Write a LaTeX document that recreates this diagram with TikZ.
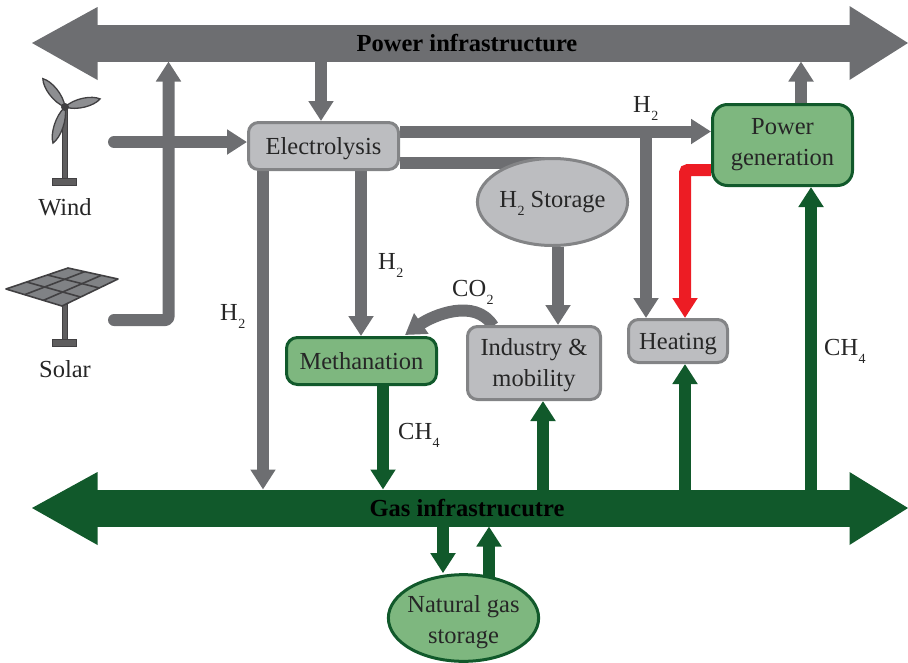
\documentclass[tikz,border=0pt]{standalone}
\usepackage{fontspec}
\setmainfont{Liberation Serif}
\usetikzlibrary{arrows.meta,shapes.geometric,calc}
\definecolor{pgray}{HTML}{6D6E71}
\definecolor{lgray}{HTML}{BCBDC0}
\definecolor{dgreen}{HTML}{11592B}
\definecolor{lgreen}{HTML}{7EB77F}
\definecolor{hred}{HTML}{ED1C24}
\definecolor{idark}{HTML}{414042}
\definecolor{imid}{HTML}{808285}
\pgfdeclarelayer{back}
\pgfsetlayers{back,main}
\newcommand{\lowidx}[1]{\kern0.5pt\raisebox{-8.5pt}{\fontsize{14}{14}\selectfont #1}}
\tikzset{
  txt/.style={font=\fontsize{24.5}{31}\selectfont, align=center, text=black!85, inner sep=0pt},
  oneline/.style={text height=16pt, text depth=0pt},
  free/.style={txt, anchor=base west},
  freec/.style={txt, anchor=base},
  bold label/.style={font=\fontsize{24.5}{26}\selectfont\bfseries, text=black, inner sep=0pt},
  graybox/.style={draw=pgray!85, fill=lgray, line width=3pt, rounded corners=10pt, txt},
  greenbox/.style={draw=dgreen, fill=lgreen, line width=3pt, rounded corners=11pt, txt},
  grayell/.style={ellipse, draw=pgray!85, fill=lgray, line width=3pt, txt},
  greenell/.style={ellipse, draw=dgreen, fill=lgreen, line width=3pt, txt},
  bar/.style={minimum width=753pt, minimum height=37pt, inner sep=0pt, outer sep=0pt, draw=none},
  flow/.style={line width=12pt, -{Triangle[length=20pt,width=24pt]}},
  plainflow/.style={line width=12pt},
  blade/.style={fill=imid!90, draw=idark, line width=1.3pt},
  panel/.style={draw=idark, line width=1.6pt, line join=round},
  iron/.style={draw=idark, fill=idark!85, line width=1pt}
}
\begin{document}
\begin{tikzpicture}[x=1pt,y=-1pt]
\useasboundingbox (0,0) rectangle (908,662);
\clip (0,0) rectangle (908,662);

% infrastructure bars
\begin{pgfonlayer}{back}
\node[bar, fill=pgray] (power) at (473.5,43) {};
\fill[pgray] (97.5,7) -- (32,43) -- (97.5,80) -- cycle;
\fill[pgray] (849.5,6) -- (908,43) -- (849.5,80) -- cycle;
\node[bar, fill=dgreen] (gas) at (473.5,508) {};
\fill[dgreen] (97.5,472) -- (32,508) -- (97.5,545) -- cycle;
\fill[dgreen] (849.5,472) -- (908,508) -- (849.5,545) -- cycle;
\end{pgfonlayer}
\node[bold label] (powerlab) at (467,43) {Power infrastructure};
\node[bold label] (gaslab) at (467,508) {Gas infrastrucutre};

% boxes
\node[graybox, oneline, minimum width=150pt, minimum height=47pt] (elec) at (323.5,146) {Electrolysis};
\node[greenbox, rounded corners=15pt, minimum width=140pt, minimum height=81pt] (pgen) at (782.5,145) {Power\\generation};
\node[grayell, text height=10pt, text depth=0pt, minimum width=150pt, minimum height=87pt] (stor) at (552.5,202) {H\lowidx{2} Storage};
\node[graybox, oneline, minimum width=99pt, minimum height=43pt] (heat) at (678,341) {Heating};
\node[graybox, minimum width=133pt, minimum height=73pt] (ind) at (534,363) {\rule{0pt}{21pt}Industry \&\\mobility};
\node[greenbox, oneline, minimum width=150pt, minimum height=47pt] (meth) at (361.5,361) {Methanation};
\node[greenell, inner xsep=-3pt, minimum width=150pt, minimum height=85pt] (ngs) at (463.5,618) {\rule{0pt}{25pt}Natural gas\\storage};

% free labels
\node[freec] (lw) at (65,215) {Wind};
\node[freec] (ls) at (65,377) {Solar};
\node[free] (h2a) at (633,112) {H\lowidx{2}};
\node[free] (h2b) at (378,269) {H\lowidx{2}};
\node[free] (h2c) at (220,320) {H\lowidx{2}};
\node[free] (co2) at (452,296) {CO\lowidx{2}};
\node[free] (ch4a) at (398,439) {CH\lowidx{4}};
\node[free] (ch4b) at (824,355) {CH\lowidx{4}};

% wind turbine
\draw[iron, line width=0.5pt] (62.5,107) rectangle (67.5,180);
\draw[iron] (52.5,178.5) rectangle (76.5,185.5);
\foreach \ang/\len in {128/36,13/36,251.6/38}{
  \begin{scope}[shift={(65,107)},rotate=\ang]
    \draw[blade] (0,0) .. controls (0.3*\len,6.5) and (0.8*\len,5.5) .. (\len,0)
                 .. controls (0.8*\len,-5.5) and (0.3*\len,-6.5) .. (0,0);
  \end{scope}
}
\fill[idark] (65,107) circle (4pt);

% solar panel
\coordinate (pa) at (68,268);
\coordinate (pb) at (118,279);
\coordinate (pc) at (62,306);
\coordinate (pd) at (6,289);
\draw[iron, line width=0.5pt] (62.5,304) rectangle (67.5,341);
\draw[iron] (52.5,339.5) rectangle (76.5,346.5);
\draw[panel, fill=imid] (pa) -- (pb) -- (pc) -- (pd) -- cycle;
\draw[panel] ($(pa)!0.333!(pb)$) -- ($(pd)!0.333!(pc)$);
\draw[panel] ($(pa)!0.667!(pb)$) -- ($(pd)!0.667!(pc)$);
\draw[panel] ($(pa)!0.333!(pd)$) -- ($(pb)!0.333!(pc)$);
\draw[panel] ($(pa)!0.667!(pd)$) -- ($(pb)!0.667!(pc)$);

% free ends and guide coordinates
\coordinate (windout) at (114,142);
\coordinate (solarout) at (114,320);
\coordinate (solarbend) at (168.5,320);
\coordinate (topb) at (0,131.5);
\coordinate (midb) at (0,163);
\coordinate (xp) at (321,0);
\coordinate (xl) at (263,0);
\coordinate (xm) at (361,0);
\coordinate (xh) at (646,0);
\coordinate (xr) at (685,0);
\coordinate (xg) at (811,0);
\coordinate (xu) at (801,0);
\coordinate (xs) at (558,0);
\coordinate (xc) at (383,0);
\coordinate (xi) at (543,0);
\coordinate (xn) at (443,0);
\coordinate (xo) at (489,0);
\coordinate (redy) at (0,170);
\coordinate (co2a) at (493,326);
\coordinate (co2b) at (405,335);

\begin{pgfonlayer}{back}
% gray connectors
\draw[flow, pgray, line cap=round] (windout) -- (elec.west |- windout);
\draw[flow, pgray, line cap=round, line join=round, rounded corners=3pt] (solarout) -- (solarbend) -- (solarbend |- power.south);
\draw[flow, pgray] (power.south -| xp) -- (elec.north -| xp);
\draw[flow, pgray] (elec.east |- topb) -- (pgen.west |- topb);
\draw[plainflow, pgray] (elec.east |- midb) -- (stor.center |- midb);
\draw[flow, pgray] (xh |- topb) -- (heat.north -| xh);
\draw[flow, pgray] (elec.south -| xl) -- (gas.north -| xl);
\draw[flow, pgray] (elec.south -| xm) -- (meth.north -| xm);
\draw[flow, pgray] (stor.south -| xs) -- (ind.north -| xs);
\draw[flow, pgray] (pgen.north -| xu) -- (power.south -| xu);
\draw[flow, pgray] (co2a) .. controls (475,297) and (432,316) .. (co2b);
% red connector
\draw[flow, hred, rounded corners=3pt] (pgen.west |- redy) -- (xr |- redy) -- (heat.north -| xr);
% green connectors
\draw[flow, dgreen] (gas.north -| xg) -- (pgen.south -| xg);
\draw[flow, dgreen] (meth.south -| xc) -- (gas.north -| xc);
\draw[flow, dgreen] (gas.north -| xi) -- (ind.south -| xi);
\draw[flow, dgreen] (gas.north -| xr) -- (heat.south -| xr);
\draw[flow, dgreen] (gas.south -| xn) -- (ngs.north -| xn);
\draw[flow, dgreen] (ngs.center -| xo) -- (gas.south -| xo);
\end{pgfonlayer}
\end{tikzpicture}
\end{document}
